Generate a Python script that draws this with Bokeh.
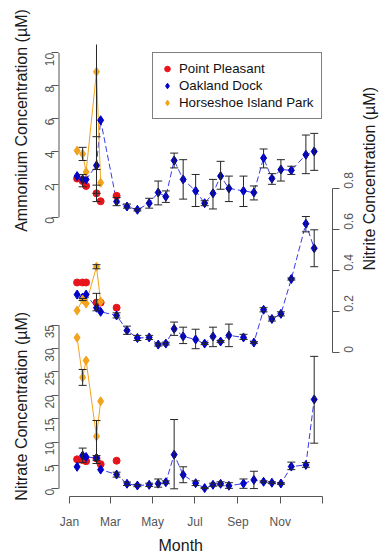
import math
from bokeh.plotting import figure
from bokeh.models import (Range1d, LinearAxis, FixedTicker, CustomJSTickFormatter,
                          Title, Legend, LegendItem)
from bokeh.embed import file_html
from bokeh.resources import INLINE

# ---------------- data (day of year) ----------------
month_ticks = [0, 59, 120, 181, 243, 304, 365]
month_labels = ["Jan", "Mar", "May", "Jul", "Sep", "Nov", ""]

pp_day = [11, 19, 24, 39, 45, 68]
hi_day = [11, 19, 24, 39, 45]
od_day = [11, 19, 24, 39, 45, 68, 83, 98, 115, 128, 139, 151, 164, 182,
          195, 207, 218, 230, 251, 266, 280, 292, 305, 320, 341, 353]

# Ammonium (uM)
amm_pp = [2.35, 2.2, 1.9, 1.45, 0.97, 1.3]
amm_hi = [4.05, 3.85, 2.75, 8.85, 2.1]
amm_od = [2.5, 2.3, 2.3, 3.15, 5.9, 0.95, 0.65, 0.45, 0.85, 1.5, 1.25, 3.45, 2.3,
          1.6, 0.85, 1.45, 2.5, 1.75, 1.6, 1.5, 3.6, 2.35, 2.9, 2.85, 3.8, 4.0]
amm_err_day = [19, 19, 39, 39, 39, 68, 83, 98, 115, 128, 139, 151, 164, 182, 195,
               207, 218, 230, 251, 266, 280, 292, 305, 320, 341, 353]
amm_err_lo = [3.45, 1.85, 2.9, 1.45, 0.95, 0.7, 0.55, 0.38, 0.55, 0.75, 0.9, 3.0, 1.1,
              0.65, 0.7, 0.5, 1.7, 0.95, 0.65, 1.05, 3.0, 2.0, 2.2, 2.6, 2.65, 2.85]
amm_err_hi = [4.25, 2.6, 14.8, 4.9, 1.95, 1.2, 0.8, 0.52, 1.15, 2.2, 1.6, 3.9, 3.5,
              2.6, 1.0, 2.3, 3.4, 2.5, 2.5, 1.9, 4.15, 2.65, 3.5, 3.1, 5.0, 5.1]

# Nitrite (uM)
no2_pp = [0.343, 0.343, 0.343, 0.245, 0.245, 0.22]
no2_hi = [0.206, 0.26, 0.24, 0.42, 0.25]
no2_od = [0.284, 0.27, 0.284, 0.22, 0.2, 0.182, 0.109, 0.072, 0.075, 0.04, 0.045,
          0.117, 0.08, 0.065, 0.045, 0.08, 0.055, 0.085, 0.075, 0.05, 0.21, 0.165,
          0.19, 0.36, 0.63, 0.51]
no2_err_day = [19, 39, 39, 68, 83, 98, 115, 128, 139, 151, 164, 182, 195, 207, 218,
               230, 251, 266, 280, 292, 305, 320, 341, 353]
no2_err_lo = [0.255, 0.41, 0.205, 0.17, 0.09, 0.06, 0.065, 0.033, 0.038, 0.085, 0.045,
              0.02, 0.04, 0.03, 0.05, 0.03, 0.065, 0.045, 0.2, 0.155, 0.18, 0.355,
              0.59, 0.42]
no2_err_hi = [0.265, 0.43, 0.29, 0.195, 0.13, 0.085, 0.085, 0.047, 0.052, 0.15, 0.125,
              0.115, 0.05, 0.125, 0.06, 0.14, 0.09, 0.055, 0.22, 0.175, 0.2, 0.365,
              0.665, 0.6]

# Nitrate (uM)
no3_pp = [6.3, 6.15, 5.9, 6.5, 5.25, 6.0]
no3_hi = [32.3, 23.8, 27.4, 11.2, 18.7]
no3_od = [4.7, 7.1, 6.8, 6.6, 4.1, 3.05, 1.07, 0.7, 0.85, 1.1, 1.4, 7.3, 3.0, 1.2,
          0.15, 0.85, 1.07, 0.65, 1.13, 1.9, 1.5, 1.3, 1.13, 4.75, 5.1, 19.1]
no3_err_day = [19, 19, 39, 39, 68, 83, 98, 115, 128, 139, 151, 164, 182, 195, 207,
               218, 230, 251, 266, 280, 292, 305, 320, 341, 353]
no3_err_lo = [22.1, 5.6, 5.4, 6.1, 2.5, 0.7, 0.45, 0.5, 0.35, 1.1, 0.0, 1.3, 0.7, 0.05,
              0.55, 0.65, 0.1, 0.1, 0.05, 1.3, 1.1, 0.95, 4.1, 4.6, 9.75]
no3_err_hi = [25.5, 8.7, 14.6, 7.1, 3.55, 1.45, 0.95, 1.2, 2.1, 1.7, 14.8, 4.7, 1.7,
              0.25, 1.2, 1.5, 1.3, 2.1, 3.75, 1.7, 1.5, 1.3, 5.7, 5.6, 28.3]

amm_ticks = [0, 2, 4, 6, 8, 10]
no2_ticks = [0, 0.2, 0.4, 0.6, 0.8]
no2_labels = ["0", "0.2", "0.4", "0.6", "0.8"]
no3_ticks = [0, 5, 10, 15, 20, 25, 30, 35]

site_names = ["Point Pleasant", "Oakland Dock", "Horseshoe Island Park"]
amm_title = "Ammonium Concentration (\u00b5M)"
no2_title = "Nitrite Concentration (\u00b5M)"
no3_title = "Nitrate Concentration (\u00b5M)"
x_title = "Month"

# ---------------- style ----------------
FONT = "Liberation Sans"
RED = "#e8141c"
BLUE = "#0000c8"
BLUE_LINE = "#3a3ae8"
ORANGE = "#f2a31b"
ERR = "#262626"
AX = "#555555"
TXT = "#1a1a1a"

x_range = Range1d(-15.8, 379.4)
amm_range = Range1d(-17.0, 10.51)
no2_range = Range1d(-0.701, 1.504)
no3_range = Range1d(-1.645, 94.94)

p = figure(width=389, height=556, x_range=x_range, y_range=amm_range,
           output_backend="svg", toolbar_location=None,
           min_border_left=58, min_border_right=56, min_border_top=44,
           min_border_bottom=60)
p.extra_y_ranges = {"no2": no2_range, "no3": no3_range}
p.outline_line_color = None
p.xgrid.visible = False
p.ygrid.visible = False
p.background_fill_color = "white"


def to_main(v, rng):
    return amm_range.start + (v - rng.start) * (amm_range.end - amm_range.start) / (rng.end - rng.start)


fmt_code = """
for (let i = 0; i < pos.length; i++) {
  if (Math.abs(tick - pos[i]) < 1e-6) { return lab[i]; }
}
return '';
"""


def style_axis(ax, standoff):
    ax.major_tick_out = 7
    ax.major_tick_in = 0
    ax.minor_tick_line_color = None
    ax.major_tick_line_color = AX
    ax.major_label_standoff = standoff
    ax.major_label_text_font = FONT
    ax.major_label_text_font_size = "12px"
    ax.major_label_text_color = AX
    ax.axis_label_text_font = FONT
    ax.axis_label_text_font_size = "16px"
    ax.axis_label_text_font_style = "normal"
    ax.axis_label_text_color = TXT


# left axis: ammonium ticks plus nitrate ticks mapped into ammonium units
left_pos = [float(t) for t in amm_ticks] + [to_main(t, no3_range) for t in no3_ticks]
left_lab = [str(t) for t in amm_ticks] + [str(t) for t in no3_ticks]
yax = p.yaxis[0]
yax.ticker = FixedTicker(ticks=left_pos)
yax.formatter = CustomJSTickFormatter(args=dict(pos=left_pos, lab=left_lab), code=fmt_code)
yax.axis_line_color = None
style_axis(yax, 2)
yax.major_label_orientation = math.pi / 2
NB = "\u00a0"
yax.axis_label = NB * 7 + no3_title + NB * 18 + amm_title
yax.axis_label_standoff = 8

# axis lines for the two left scales (drawn from their tick extents)
p.segment(x0=[x_range.start], y0=[amm_ticks[0]], x1=[x_range.start], y1=[amm_ticks[-1]],
          line_color=AX, line_width=2)
p.segment(x0=[x_range.start], y0=[no3_ticks[0]], x1=[x_range.start], y1=[no3_ticks[-1]],
          line_color=AX, line_width=2, y_range_name="no3")

# right axis: nitrite
rax = LinearAxis(y_range_name="no2", ticker=FixedTicker(ticks=no2_ticks),
                 bounds=(no2_ticks[0], no2_ticks[-1]))
rax.formatter = CustomJSTickFormatter(args=dict(pos=no2_ticks, lab=no2_labels), code=fmt_code)
rax.axis_line_color = AX
style_axis(rax, 9)
rax.major_label_orientation = math.pi / 2
rax.axis_label = no2_title
rax.axis_label_orientation = math.pi / 2
rax.axis_label_text_line_height = 1.0
rax.axis_label_standoff = 9
p.add_layout(rax, "right")

# x axis
xax = p.xaxis[0]
xax.ticker = FixedTicker(ticks=month_ticks)
xax.formatter = CustomJSTickFormatter(args=dict(pos=month_ticks, lab=month_labels), code=fmt_code)
xax.bounds = (month_ticks[0], month_ticks[-1])
xax.axis_line_color = AX
style_axis(xax, 11)

p.add_layout(Title(text=x_title, align="left", offset=100, text_font=FONT,
                   text_font_size="16px", text_font_style="normal",
                   text_color=TXT, standoff=6), "below")

# ---------------- glyphs ----------------
panels = [
    (None, amm_pp, amm_hi, amm_od, amm_err_day, amm_err_lo, amm_err_hi),
    ("no2", no2_pp, no2_hi, no2_od, no2_err_day, no2_err_lo, no2_err_hi),
    ("no3", no3_pp, no3_hi, no3_od, no3_err_day, no3_err_lo, no3_err_hi),
]
legend_renderers = None
for rn, pp, hi, od, ed, elo, ehi in panels:
    kw = {} if rn is None else {"y_range_name": rn}
    p.line(od_day, od, line_color=BLUE_LINE, line_width=1, line_dash="6 3", **kw)
    p.line(hi_day, hi, line_color=ORANGE, line_width=1, **kw)
    r_pp = p.scatter(pp_day, pp, marker="circle", size=7, fill_color=RED, line_color=RED, **kw)
    r_od = p.scatter(od_day, od, marker="diamond", size=9, fill_color=BLUE, line_color=BLUE, **kw)
    r_hi = p.scatter(hi_day, hi, marker="diamond", size=9, fill_color=ORANGE, line_color=ORANGE, **kw)
    p.segment(x0=ed, y0=elo, x1=ed, y1=ehi, line_color=ERR, line_width=1, **kw)
    p.scatter(ed, elo, marker="dash", size=8, line_color=ERR, line_width=1, **kw)
    p.scatter(ed, ehi, marker="dash", size=8, line_color=ERR, line_width=1, **kw)
    if legend_renderers is None:
        legend_renderers = (r_pp, r_od, r_hi)

legend = Legend(items=[LegendItem(label=n, renderers=[r]) for n, r in zip(site_names, legend_renderers)],
                location=(94, 377))
legend.border_line_color = "black"
legend.border_line_width = 1
legend.background_fill_color = "white"
legend.background_fill_alpha = 1
legend.label_text_font = FONT
legend.label_text_font_size = "13.3px"
legend.label_text_color = "#111111"
legend.glyph_width = 14
legend.glyph_height = 17
legend.label_height = 17
legend.label_standoff = 5
legend.padding = 7
legend.spacing = 0
legend.margin = 0
p.add_layout(legend)

open("out.html", "w").write(file_html(p, INLINE))
